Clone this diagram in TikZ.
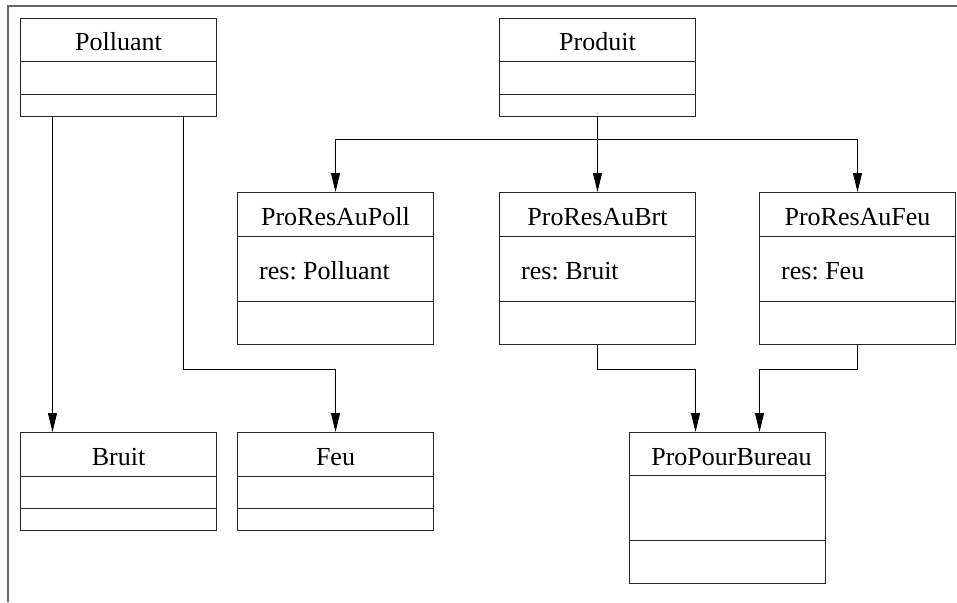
\documentclass[tikz,border=0pt]{standalone}
\usepackage{fontspec}
\setmainfont{Liberation Serif}
\usetikzlibrary{arrows.meta}
\frenchspacing

\tikzset{
  classbox/.style={draw=black!85, line width=1pt, inner sep=0pt, anchor=north west, minimum width=196pt},
  divider/.style={draw=black!85, line width=1pt},
  classtitle/.style={anchor=base, inner sep=0pt, font=\fontsize{26}{30}\selectfont},
  classattr/.style={anchor=base west, inner sep=0pt, font=\fontsize{26}{30}\selectfont},
  link/.style={line width=1pt, -{Triangle[length=19pt,width=9pt]}},
}

\begin{document}
\begin{tikzpicture}[x=1pt, y=-1pt]
        \useasboundingbox (0,0) rectangle (957,602);
        \draw[black!60, line width=2pt] (957,6) -- (8,6) -- (8,602);

        % top row
        \node[classbox, minimum height=98pt] (pol) at (20,18) {};
        \draw[divider] ([yshift=-43.5pt]pol.north west) -- ([yshift=-43.5pt]pol.north east);
        \draw[divider] ([yshift=-76pt]pol.north west) -- ([yshift=-76pt]pol.north east);
        \node[classtitle] (polT) at ([yshift=-33pt]pol.north) {Polluant};

        \node[classbox, minimum height=98pt] (prod) at (499,18) {};
        \draw[divider] ([yshift=-43.5pt]prod.north west) -- ([yshift=-43.5pt]prod.north east);
        \draw[divider] ([yshift=-76pt]prod.north west) -- ([yshift=-76pt]prod.north east);
        \node[classtitle] (prodT) at ([yshift=-33pt]prod.north) {Produit};

        % middle row
        \node[classbox, minimum height=152pt] (rpoll) at (237,192) {};
        \draw[divider] ([yshift=-44pt]rpoll.north west) -- ([yshift=-44pt]rpoll.north east);
        \draw[divider] ([yshift=-109pt]rpoll.north west) -- ([yshift=-109pt]rpoll.north east);
        \node[classtitle] (rpollT) at ([yshift=-33pt]rpoll.north) {ProResAuPoll};
        \node[classattr] (rpollA) at ([xshift=22pt,yshift=-87pt]rpoll.north west) {res: Polluant};

        \node[classbox, minimum height=152pt] (rbrt) at (499,192) {};
        \draw[divider] ([yshift=-44pt]rbrt.north west) -- ([yshift=-44pt]rbrt.north east);
        \draw[divider] ([yshift=-109pt]rbrt.north west) -- ([yshift=-109pt]rbrt.north east);
        \node[classtitle] (rbrtT) at ([yshift=-33pt]rbrt.north) {ProResAuBrt};
        \node[classattr] (rbrtA) at ([xshift=22pt,yshift=-87pt]rbrt.north west) {res: Bruit};

        \node[classbox, minimum height=152pt] (rfeu) at (759,192) {};
        \draw[divider] ([yshift=-44pt]rfeu.north west) -- ([yshift=-44pt]rfeu.north east);
        \draw[divider] ([yshift=-109pt]rfeu.north west) -- ([yshift=-109pt]rfeu.north east);
        \node[classtitle] (rfeuT) at ([yshift=-33pt]rfeu.north) {ProResAuFeu};
        \node[classattr] (rfeuA) at ([xshift=22pt,yshift=-87pt]rfeu.north west) {res: Feu};

        % bottom row
        \node[classbox, minimum height=98pt] (bruit) at (20,432) {};
        \draw[divider] ([yshift=-44pt]bruit.north west) -- ([yshift=-44pt]bruit.north east);
        \draw[divider] ([yshift=-76pt]bruit.north west) -- ([yshift=-76pt]bruit.north east);
        \node[classtitle] (bruitT) at ([yshift=-33pt]bruit.north) {Bruit};

        \node[classbox, minimum height=98pt] (feu) at (237,432) {};
        \draw[divider] ([yshift=-44pt]feu.north west) -- ([yshift=-44pt]feu.north east);
        \draw[divider] ([yshift=-76pt]feu.north west) -- ([yshift=-76pt]feu.north east);
        \node[classtitle] (feuT) at ([yshift=-33pt]feu.north) {Feu};

        \node[classbox, minimum height=151pt] (bureau) at (629,432) {};
        \draw[divider] ([yshift=-43pt]bureau.north west) -- ([yshift=-43pt]bureau.north east);
        \draw[divider] ([yshift=-108pt]bureau.north west) -- ([yshift=-108pt]bureau.north east);
        \node[classtitle] (bureauT) at ([xshift=4pt,yshift=-33pt]bureau.north) {ProPourBureau};

        % links
        \draw[link] ([xshift=-66pt]pol.south) -- ([xshift=-66pt]bruit.north);
        \draw[link] ([xshift=65pt]pol.south) -- ++(0,252) -| (feu.north);

        \draw[line width=1pt] (prod.south) -- ++(0,22) coordinate (fork);
        \draw[link] (fork) -| (rpoll.north);
        \draw[link] (fork) -- (rbrt.north);
        \draw[link] (fork) -| (rfeu.north);

        \draw[link] (rbrt.south) -- ++(0,24) -| ([xshift=-32pt]bureau.north);
        \draw[link] (rfeu.south) -- ++(0,24) -| ([xshift=32pt]bureau.north);
\end{tikzpicture}
\end{document}
